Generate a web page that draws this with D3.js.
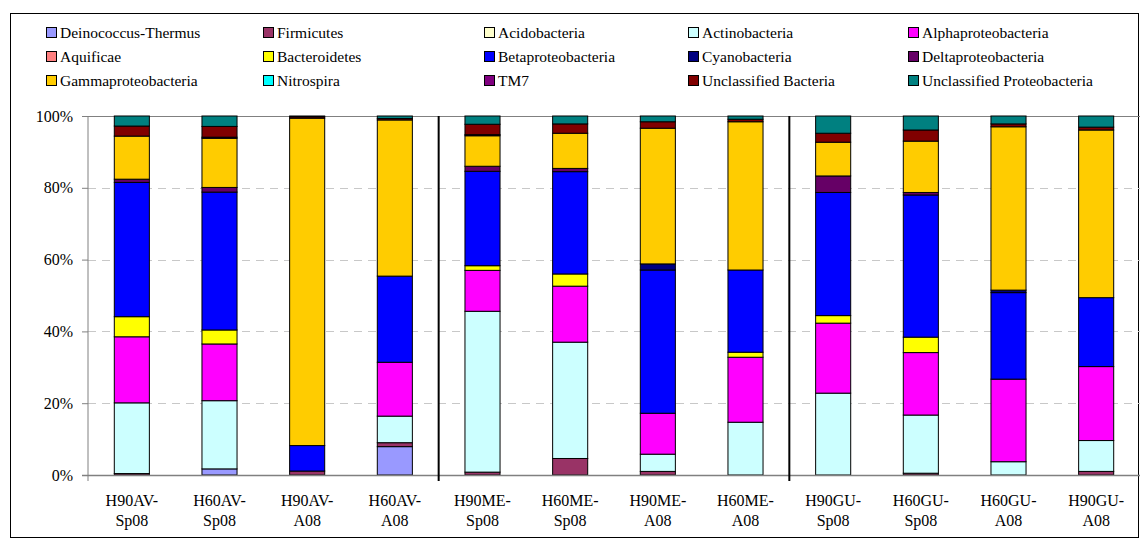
<!DOCTYPE html>
<html>
<head>
<meta charset="utf-8">
<script src="https://cdn.jsdelivr.net/npm/d3@7"></script>
<style>
  html, body { margin: 0; padding: 0; background: #fff; }
  svg { display: block; }
  svg text { font-family: "Liberation Serif", "Times New Roman", Times, "DejaVu Serif", serif; }
</style>
</head>
<body>
<svg id="chart" width="1140" height="543"></svg>
<script>
// Sample sites (x axis)
const categories = ["H90AV-Sp08", "H60AV-Sp08", "H90AV-A08", "H60AV-A08",
                    "H90ME-Sp08", "H60ME-Sp08", "H90ME-A08", "H60ME-A08",
                    "H90GU-Sp08", "H60GU-Sp08", "H60GU-A08", "H90GU-A08"];

// Relative abundance (%) of each group per sample, stacked bottom to top
const deinococcusThermus        = [0, 1.7, 0, 7.9, 0, 0, 0, 0, 0, 0, 0, 0];
const firmicutes                = [0.4, 0, 1.1, 1.1, 0.8, 4.6, 1.0, 0, 0, 0.5, 0, 1.0];
const acidobacteria             = [0, 0, 0, 0, 0, 0, 0, 0, 0, 0, 0, 0];
const actinobacteria            = [19.7, 19.0, 0, 7.4, 44.8, 32.4, 4.8, 14.7, 22.8, 16.2, 3.7, 8.6];
const alphaproteobacteria       = [18.4, 15.8, 0, 15.0, 11.4, 15.6, 11.4, 18.1, 19.5, 17.4, 23.0, 20.6];
const aquificae                 = [0, 0, 0, 0, 0, 0, 0, 0, 0, 0, 0, 0];
const bacteroidetes             = [5.6, 3.9, 0, 0, 1.3, 3.4, 0, 1.4, 2.1, 4.3, 0, 0];
const betaproteobacteria        = [37.4, 38.4, 7.1, 24.0, 26.3, 28.5, 39.9, 22.9, 34.3, 39.6, 24.1, 19.2];
const cyanobacteria             = [0, 0, 0, 0, 0, 0, 1.7, 0, 0, 0, 0.7, 0];
const deltaproteobacteria       = [0.9, 1.3, 0, 0, 1.4, 0.9, 0, 0, 4.6, 0.7, 0, 0];
const gammaproteobacteria       = [12.0, 13.7, 91.2, 43.5, 8.5, 9.8, 37.8, 41.3, 9.4, 14.3, 45.5, 46.7];
const nitrospira                = [0, 0, 0, 0, 0, 0, 0, 0, 0, 0, 0, 0];
const tm7                       = [0, 0.3, 0, 0, 0.3, 0, 0, 0, 0, 0, 0, 0];
const unclassifiedBacteria      = [2.8, 3.0, 0.4, 0.4, 2.9, 2.6, 1.8, 0.7, 2.5, 3.1, 0.8, 0.8];
const unclassifiedProteobacteria= [2.8, 2.9, 0.2, 0.7, 2.3, 2.2, 1.6, 0.9, 4.8, 3.9, 2.2, 3.1];

const seriesNames = ["Deinococcus-Thermus", "Firmicutes", "Acidobacteria", "Actinobacteria",
                     "Alphaproteobacteria", "Aquificae", "Bacteroidetes", "Betaproteobacteria",
                     "Cyanobacteria", "Deltaproteobacteria", "Gammaproteobacteria", "Nitrospira",
                     "TM7", "Unclassified Bacteria", "Unclassified Proteobacteria"];
const seriesValues = [deinococcusThermus, firmicutes, acidobacteria, actinobacteria,
                      alphaproteobacteria, aquificae, bacteroidetes, betaproteobacteria,
                      cyanobacteria, deltaproteobacteria, gammaproteobacteria, nitrospira,
                      tm7, unclassifiedBacteria, unclassifiedProteobacteria];
const seriesColors = ["#9999FF", "#993366", "#FFFFCC", "#CCFFFF", "#FF00FF",
                      "#FF8080", "#FFFF00", "#0000FF", "#000080", "#660066",
                      "#FFCC00", "#00FFFF", "#800080", "#800000", "#008080"];

const yTicks = [0, 0.2, 0.4, 0.6, 0.8, 1.0];
// Region boundaries (AV | ME | GU) drawn before these category indices
const groupBreaks = [4, 8];

const FONT = "'Liberation Serif', 'Times New Roman', Times, 'DejaVu Serif', serif";

// Build rows for d3.stack
const rows = categories.map((c, i) => {
  const r = { category: c };
  seriesNames.forEach((s, j) => { r[s] = seriesValues[j][i]; });
  return r;
});

const svg = d3.select("#chart").attr("font-family", FONT);
const plot = { left: 88, right: 1140, top: 116, bottom: 475 };

// Outer chart frame
svg.append("rect")
  .attr("x", 10.5).attr("y", 13.5)
  .attr("width", 1128).attr("height", 524)
  .attr("fill", "#fff").attr("stroke", "#000").attr("stroke-width", 1);

const x = d3.scaleBand()
  .domain(categories)
  .range([plot.left, plot.right])
  .paddingInner(0.6)
  .paddingOuter(0.3);

const y = d3.scaleLinear().domain([0, 1]).range([plot.bottom, plot.top]);

// Gridlines
svg.append("g")
  .selectAll("line")
  .data(yTicks.filter(t => t > 0 && t < 1))
  .join("line")
  .attr("x1", plot.left).attr("x2", plot.right)
  .attr("y1", d => Math.round(y(d)) + 0.5).attr("y2", d => Math.round(y(d)) + 0.5)
  .attr("stroke", "#c8c8c8").attr("stroke-dasharray", "8,6");

// Top border of plot area
svg.append("line")
  .attr("x1", plot.left).attr("x2", plot.right)
  .attr("y1", Math.round(y(1)) + 0.5).attr("y2", Math.round(y(1)) + 0.5)
  .attr("stroke", "#808080");

// Stacked bars
const stack = d3.stack().keys(seriesNames).offset(d3.stackOffsetExpand);
const stacked = stack(rows);

svg.append("g")
  .selectAll("g")
  .data(stacked)
  .join("g")
  .attr("fill", (d, i) => seriesColors[i])
  .selectAll("rect")
  .data(d => d.filter(s => s[1] - s[0] > 0))
  .join("rect")
  .attr("x", d => x(d.data.category))
  .attr("y", d => y(d[1]))
  .attr("width", x.bandwidth())
  .attr("height", d => y(d[0]) - y(d[1]))
  .attr("stroke", "#000")
  .attr("stroke-width", 1);

// Y axis
const yAxis = d3.axisLeft(y)
  .tickValues(yTicks)
  .tickFormat(d3.format(".0%"))
  .tickSize(6)
  .tickPadding(9);

const gy = svg.append("g")
  .attr("transform", `translate(${plot.left},0)`)
  .call(yAxis)
  .attr("font-family", FONT)
  .attr("font-size", 16);
gy.select(".domain").attr("stroke", "#808080").attr("d", `M0,${plot.top}V${plot.bottom + 6}`);
gy.selectAll(".tick line").attr("stroke", "#808080");
gy.selectAll(".tick text").attr("fill", "#000");

// X axis line
svg.append("line")
  .attr("x1", plot.left - 6).attr("x2", plot.right)
  .attr("y1", plot.bottom + 0.5).attr("y2", plot.bottom + 0.5)
  .attr("stroke", "#808080").attr("stroke-width", 1.5);

// Region separators
const gap = x.step() - x.bandwidth();
svg.append("g")
  .selectAll("line")
  .data(groupBreaks)
  .join("line")
  .attr("x1", d => x(categories[d]) - gap / 2)
  .attr("x2", d => x(categories[d]) - gap / 2)
  .attr("y1", plot.top).attr("y2", plot.bottom + 6)
  .attr("stroke", "#000").attr("stroke-width", 2);

// Category labels, split on the hyphen onto two lines
const xl = svg.append("g")
  .attr("font-family", FONT)
  .attr("font-size", 16)
  .selectAll("text")
  .data(categories)
  .join("text")
  .attr("text-anchor", "middle")
  .attr("fill", "#000");
xl.append("tspan")
  .attr("x", d => x(d) + x.bandwidth() / 2)
  .attr("y", 506)
  .text(d => d.split("-")[0] + "-");
xl.append("tspan")
  .attr("x", d => x(d) + x.bandwidth() / 2)
  .attr("y", 526)
  .text(d => d.split("-")[1]);

// Legend: 3 rows x 5 columns
const legendCols = [46, 263, 484, 688, 908];
const legendRows = [33, 57, 81];
const leg = svg.append("g")
  .attr("font-family", FONT)
  .attr("font-size", 15.5)
  .selectAll("g")
  .data(seriesNames)
  .join("g")
  .attr("transform", (d, i) => `translate(${legendCols[i % 5]},${legendRows[Math.floor(i / 5)]})`);
leg.append("rect")
  .attr("x", 0.5).attr("y", -5.5)
  .attr("width", 10).attr("height", 10)
  .attr("fill", (d, i) => seriesColors[i])
  .attr("stroke", "#000");
leg.append("text")
  .attr("x", 14).attr("y", 5)
  .attr("fill", "#000")
  .text(d => d);
</script>
</body>
</html>
